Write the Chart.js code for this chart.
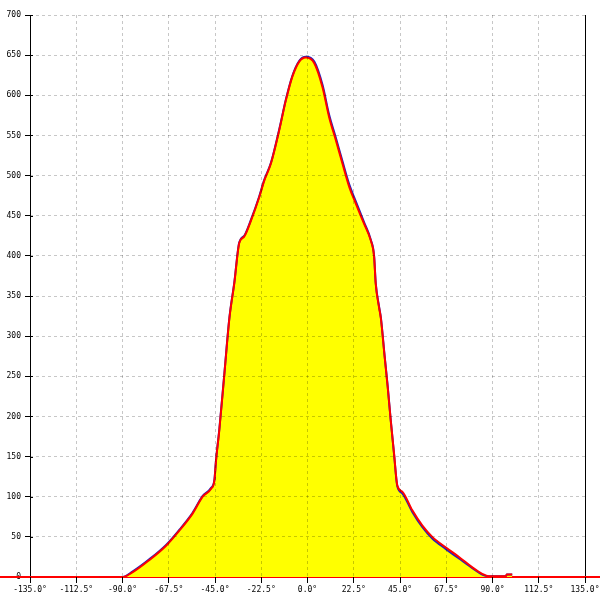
<!DOCTYPE html>
<html>
<head>
<meta charset="utf-8">
<script src="https://cdn.jsdelivr.net/npm/chart.js@4.4.1/dist/chart.umd.min.js"></script>
<style>
  html, body { margin: 0; padding: 0; background: #fff; }
  #wrap { width: 600px; height: 600px; }
</style>
</head>
<body>
<div id="wrap"><canvas id="chart" width="600" height="600"></canvas></div>
<script>
// angle (deg) and counts
const angles = [-101, -90, -85, -77, -68.8, -62.3, -55.9, -51, -46.9, -45.3, -44.5, -42.9, -40.5, -38, -35.6, -33.2,
  -30.8, -27.5, -23.5, -21, -17.8, -13.8, -10.5, -7.4, -4, -0.8, 3.3, 7.3, 10.5, 13.8, 17, 20.3, 23.5, 27.5,
  30.8, 32.4, 33.2, 34.8, 35.7, 37.5, 39, 40.5, 42.1, 43.7, 46.2, 51, 55.9, 60.7, 67.2, 73.7, 80.2, 85, 88.3,
  96.4, 97, 99.6];
const redValues = [0, 0, 6, 21, 39, 58, 79, 100, 110, 120, 145, 183, 251, 322, 366, 416,
  424, 444, 473, 494, 515, 556, 594, 623, 642, 647, 640, 610, 573, 544, 515, 486, 465, 440,
  419, 399, 365, 336, 322, 275, 237, 195, 154, 114, 106, 83, 64, 50, 37, 25, 12, 4, 1,
  1, 3, 3];
const blueValues = [0, 0, 7, 22, 40, 59, 80, 101, 111, 121, 146, 184, 252, 323, 367, 417,
  425, 445, 474, 495, 516, 557, 595, 624, 643, 648, 642, 613, 576, 547, 518, 489, 468, 442,
  420, 400, 366, 337, 323, 276, 238, 195, 153, 113, 104, 81, 62, 48, 35, 23, 11, 3, 1,
  1, 3, 3];
const baseX = [-150, 150];
const baseY = [0, 0];
const xTicks = [-135, -112.5, -90, -67.5, -45, -22.5, 0, 22.5, 45, 67.5, 90, 112.5, 135];

const font = { family: "'DejaVu Sans Mono', monospace", size: 8 };
const gridGrey = 'rgba(0,0,0,0.22)';

// left axis line and small inward tick stubs
const leftAxis = {
  id: 'leftAxis',
  beforeDatasetsDraw(chart) {
    const ctx = chart.ctx;
    const y = chart.scales.y;
    const a = chart.chartArea;
    ctx.save();
    ctx.strokeStyle = '#000';
    ctx.lineWidth = 1;
    ctx.beginPath();
    ctx.moveTo(Math.round(a.left) + 0.5, a.top);
    ctx.lineTo(Math.round(a.left) + 0.5, a.bottom);
    ctx.stroke();
    y.ticks.forEach(t => {
      if (t.value === 0) return;
      const py = Math.round(y.getPixelForValue(t.value)) + 0.5;
      ctx.beginPath();
      ctx.moveTo(a.left, py);
      ctx.lineTo(a.left + 3, py);
      ctx.stroke();
    });
    ctx.restore();
  }
};

new Chart(document.getElementById('chart'), {
  type: 'line',
  data: {
    datasets: [
      {
        data: angles.map((a, i) => ({ x: a, y: redValues[i] })),
        borderColor: '#ff0000',
        borderWidth: 2,
        pointRadius: 0,
        fill: false,
        cubicInterpolationMode: 'monotone'
      },
      {
        data: angles.map((a, i) => ({ x: a, y: blueValues[i] })),
        borderColor: '#2020c0',
        borderWidth: 2,
        pointRadius: 0,
        fill: 'origin',
        backgroundColor: '#ffff00',
        cubicInterpolationMode: 'monotone'
      },
      {
        data: baseX.map((a, i) => ({ x: a, y: baseY[i] })),
        borderColor: '#ff0000',
        borderWidth: 2,
        pointRadius: 0,
        fill: false,
        clip: false
      }
    ]
  },
  options: {
    responsive: false,
    animation: false,
    layout: { padding: { top: 15, right: 0, left: 0, bottom: 0 } },
    plugins: { legend: { display: false }, tooltip: { enabled: false } },
    scales: {
      x: {
        type: 'linear',
        min: -135,
        max: 135,
        afterBuildTicks: s => { s.ticks = xTicks.map(v => ({ value: v })); },
        afterFit: s => { s.height = 23; s.paddingLeft = 0; s.paddingRight = 0; },
        ticks: {
          color: '#000',
          font: font,
          padding: 2,
          maxRotation: 0,
          autoSkip: false,
          callback: v => v.toFixed(1) + '°'
        },
        grid: {
          z: 1,
          color: c => (c.tick && Math.abs(c.tick.value) === 135) ? 'rgba(0,0,0,0)' : gridGrey,
          tickColor: '#000',
          tickLength: 6
        },
        border: { display: false, dash: [3, 3] }
      },
      y: {
        min: 0,
        max: 700,
        afterFit: s => { s.width = 30; },
        ticks: { stepSize: 50, color: '#000', font: font, padding: 4 },
        grid: {
          z: 1,
          color: c => (c.tick && c.tick.value === 0) ? 'rgba(0,0,0,0)' : gridGrey,
          tickColor: c => (c.tick && c.tick.value === 0) ? 'rgba(0,0,0,0)' : '#000',
          tickLength: 5
        },
        border: { display: false, dash: [3, 3] }
      },
      y2: {
        position: 'right',
        min: 0,
        max: 700,
        afterFit: s => { s.width = 15; },
        ticks: { display: false },
        grid: { drawOnChartArea: false, drawTicks: false },
        border: { color: '#000', width: 1 }
      }
    }
  },
  plugins: [leftAxis]
});
</script>
</body>
</html>
